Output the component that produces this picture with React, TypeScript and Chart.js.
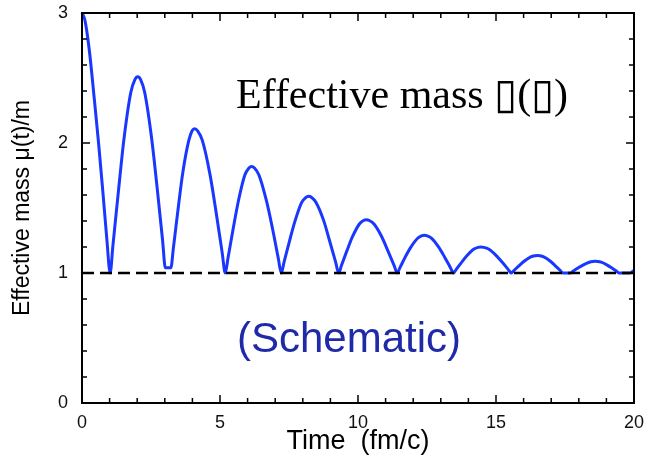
import React, { useEffect, useRef } from "react";
import { Chart, registerables } from "chart.js";

Chart.register(...registerables);

// Time axis (fm/c) and effective mass mu(t)/m
const timeValues: number[] = [
  0, 0.1, 0.25, 0.45, 0.6, 0.75, 0.9, 1.02,
  1.12, 1.32, 1.52, 1.77, 1.92, 2.02,
  2.12, 2.27, 2.52, 2.72, 2.92, 3.02, 3.22,
  3.31, 3.48, 3.65, 3.87, 3.99, 4.08,
  4.19, 4.36, 4.64, 4.86, 5.08, 5.19,
  5.29, 5.48, 5.67, 5.9, 6.05, 6.14,
  6.25, 6.41, 6.68, 6.9, 7.11, 7.22,
  7.32, 7.52, 7.72, 7.96, 8.11, 8.21,
  8.32, 8.48, 8.76, 8.97, 9.19, 9.3,
  9.4, 9.6, 9.8, 10.05, 10.2, 10.3,
  10.41, 10.58, 10.86, 11.08, 11.31, 11.42,
  11.52, 11.71, 11.91, 12.16, 12.3, 12.4,
  12.51, 12.67, 12.93, 13.14, 13.35, 13.46,
  13.56, 13.76, 13.96, 14.2, 14.35, 14.45,
  14.56, 14.73, 15.0, 15.22, 15.44, 15.55,
  15.65, 15.84, 16.03, 16.26, 16.41, 16.5,
  16.59, 16.73, 16.96, 17.14, 17.33, 17.42, 17.7,
  17.79, 17.97, 18.15, 18.38, 18.51, 18.6,
  18.69, 18.81, 19.03, 19.2, 19.37, 19.45, 19.85, 20,
];

const massValues: number[] = [
  3.0, 2.95, 2.74, 2.33, 2.0, 1.64, 1.26, 1.0,
  1.21, 1.63, 2.03, 2.39, 2.49, 2.51,
  2.49, 2.39, 2.04, 1.66, 1.25, 1.04, 1.04,
  1.19, 1.49, 1.77, 2.02, 2.094, 2.11,
  2.094, 2.02, 1.755, 1.466, 1.155, 1.0,
  1.115, 1.344, 1.558, 1.754, 1.808, 1.82,
  1.808, 1.754, 1.558, 1.344, 1.115, 1.0,
  1.083, 1.248, 1.401, 1.543, 1.581, 1.59,
  1.581, 1.543, 1.401, 1.248, 1.083, 1.0,
  1.057, 1.172, 1.279, 1.377, 1.404, 1.41,
  1.404, 1.377, 1.279, 1.172, 1.057, 1.0,
  1.041, 1.122, 1.197, 1.267, 1.286, 1.29,
  1.286, 1.267, 1.197, 1.122, 1.041, 1.0,
  1.028, 1.084, 1.136, 1.184, 1.197, 1.2,
  1.197, 1.184, 1.136, 1.084, 1.028, 1.0,
  1.019, 1.057, 1.092, 1.124, 1.133, 1.135,
  1.133, 1.124, 1.092, 1.057, 1.019, 1.0, 1.0,
  1.013, 1.038, 1.061, 1.083, 1.089, 1.09,
  1.089, 1.083, 1.061, 1.038, 1.013, 1.0, 1.0, 1.02,
];

// Reference (free-mass) level
const referenceTimes: number[] = [0, 20];
const referenceMass: number[] = [1, 1];

const xTitle = "Time  (fm/c)";
const yTitle = "Effective mass \u03bc(t)/m";
const annotationTitle = "Effective mass \u25AF(\u25AF)";
const annotationSchematic = "(Schematic)";

const SANS = "'Liberation Sans', Arial, Helvetica, sans-serif";
const SERIF = "'Liberation Serif', 'Times New Roman', serif";

const framePlugin = {
  id: "frameAndText",
  afterDraw(chart: any) {
    const { ctx, chartArea, scales } = chart;
    const xs = scales.x;
    const ys = scales.y;
    const { left, right, top, bottom } = chartArea;
    ctx.save();
    ctx.strokeStyle = "#000";
    ctx.lineWidth = 2;
    ctx.strokeRect(left, top, right - left, bottom - top);
    ctx.lineWidth = 1.5;
    ctx.beginPath();
    for (let i = 0; i <= 20; i++) {
      const px = xs.getPixelForValue(i);
      const len = i % 5 === 0 ? 8 : 5;
      ctx.moveTo(px, bottom);
      ctx.lineTo(px, bottom - len);
      ctx.moveTo(px, top);
      ctx.lineTo(px, top + len);
    }
    for (let k = 0; k <= 15; k++) {
      const v = k * 0.2;
      const py = ys.getPixelForValue(v);
      const len = k % 5 === 0 ? 8 : 5;
      ctx.moveTo(left, py);
      ctx.lineTo(left + len, py);
      ctx.moveTo(right, py);
      ctx.lineTo(right - len, py);
    }
    ctx.stroke();

    ctx.fillStyle = "#000";
    ctx.font = `42px ${SERIF}`;
    ctx.textBaseline = "alphabetic";
    ctx.textAlign = "left";
    ctx.fillText(annotationTitle, 236, 108);

    ctx.fillStyle = "#1f2aa8";
    ctx.font = `42px ${SANS}`;
    ctx.textBaseline = "middle";
    ctx.fillText(annotationSchematic, 237, 340);
    ctx.restore();
  },
};

export default function App() {
  const ref = useRef<HTMLCanvasElement>(null);
  useEffect(() => {
    if (!ref.current) return;
    const curve = timeValues.map((t, i) => ({ x: t, y: massValues[i] }));
    const refLine = referenceTimes.map((t, i) => ({ x: t, y: referenceMass[i] }));
    const chart = new Chart(ref.current, {
      type: "line",
      data: {
        datasets: [
          {
            data: refLine,
            borderColor: "#000",
            borderWidth: 2.5,
            borderDash: [12, 6],
            pointRadius: 0,
            fill: false,
          },
          {
            data: curve,
            borderColor: "rgb(25,55,255)",
            borderWidth: 3,
            pointRadius: 0,
            cubicInterpolationMode: "monotone",
            fill: false,
            clip: false,
          },
        ],
      },
      options: {
        responsive: false,
        animation: false,
        devicePixelRatio: 1,
        layout: { padding: { left: 0, right: 12, top: 13, bottom: 0 } },
        plugins: { legend: { display: false }, tooltip: { enabled: false } },
        scales: {
          x: {
            type: "linear",
            min: 0,
            max: 20,
            grid: { display: false, drawTicks: false },
            border: { display: false },
            ticks: {
              stepSize: 5,
              padding: 9,
              color: "#111",
              font: { family: SANS, size: 18 },
              maxRotation: 0,
            },
            title: {
              display: true,
              text: xTitle,
              color: "#000",
              font: { family: SANS, size: 27, lineHeight: 1 },
              padding: { top: 0, bottom: 1 },
            },
            afterFit(scale: any) {
              scale.height = 53;
              scale.paddingLeft = 0;
              scale.paddingRight = 0;
            },
          },
          y: {
            type: "linear",
            min: 0,
            max: 3,
            grid: { display: false, drawTicks: false },
            border: { display: false },
            ticks: {
              stepSize: 1,
              padding: 14,
              color: "#111",
              font: { family: SANS, size: 18 },
            },
            title: {
              display: true,
              text: yTitle,
              color: "#000",
              font: { family: SANS, size: 23 },
              padding: { top: 9, bottom: 0 },
            },
            afterFit(scale: any) {
              scale.width = 82;
              scale.paddingTop = 0;
              scale.paddingBottom = 0;
            },
          },
        },
      },
      plugins: [framePlugin],
    });
    return () => chart.destroy();
  }, []);
  return (
    <div style={{ position: "absolute", left: 0, top: 0, width: 646, height: 456, background: "#fff" }}>
      <canvas ref={ref} width={646} height={456} style={{ width: 646, height: 456, display: "block" }} />
    </div>
  );
}
